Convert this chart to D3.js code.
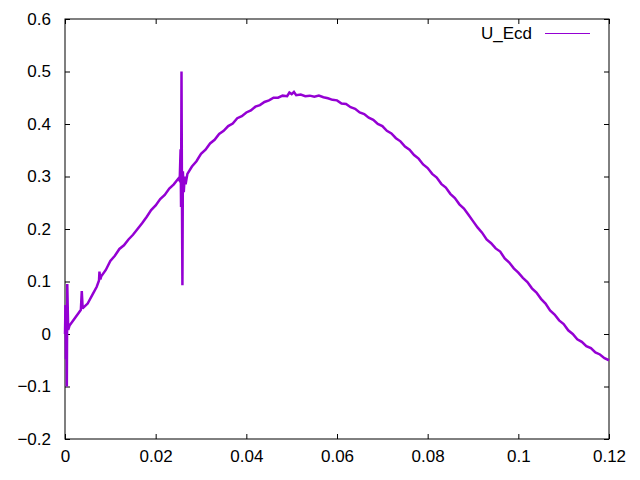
<!DOCTYPE html>
<html>
<head>
<meta charset="utf-8">
<script src="https://cdn.jsdelivr.net/npm/d3@7"></script>
<style>
  body { margin: 0; background: #fff; }
  text { font-family: "Liberation Sans", Arial, sans-serif; font-size: 17px; fill: #000; }
</style>
</head>
<body>
<div class="chart"></div>
<script>
var width = 640, height = 480;
var mLeft = 65, mRight = 609, mTop = 19, mBottom = 439;

var xTicks = [0, 0.02, 0.04, 0.06, 0.08, 0.1, 0.12];
var yTicks = [-0.2, -0.1, 0, 0.1, 0.2, 0.3, 0.4, 0.5, 0.6];
var seriesName = "U_Ecd";

var xs = [0, 0.0001, 0.0002, 0.0003, 0.0004, 0.0005, 0.0007, 0.001,
  0.002, 0.003, 0.0035, 0.0037, 0.0039, 0.004, 0.005, 0.006, 0.007, 0.0075, 0.0076, 0.0078,
  0.008, 0.009, 0.010, 0.011, 0.012, 0.013, 0.014, 0.015, 0.016, 0.017, 0.018, 0.019,
  0.020, 0.021, 0.022, 0.023, 0.024, 0.025, 0.0253, 0.0255, 0.0256, 0.0257, 0.0258, 0.0259,
  0.026, 0.0262, 0.0264, 0.0266, 0.027, 0.028, 0.029, 0.030, 0.031, 0.032, 0.033, 0.034,
  0.035, 0.036, 0.037, 0.038, 0.039, 0.040, 0.041, 0.042, 0.043, 0.044, 0.045, 0.046,
  0.047, 0.048, 0.049, 0.0495, 0.050, 0.0505, 0.051, 0.052, 0.053, 0.054, 0.055, 0.056,
  0.057, 0.058, 0.059, 0.060, 0.061, 0.062, 0.063, 0.064, 0.065, 0.066, 0.067, 0.068,
  0.069, 0.070, 0.071, 0.072, 0.073, 0.074, 0.075, 0.076, 0.077, 0.078, 0.079, 0.080,
  0.081, 0.082, 0.083, 0.084, 0.085, 0.086, 0.087, 0.088, 0.089, 0.090, 0.091, 0.092,
  0.093, 0.094, 0.095, 0.096, 0.097, 0.098, 0.099, 0.100, 0.101, 0.102, 0.103, 0.104,
  0.105, 0.106, 0.107, 0.108, 0.109, 0.110, 0.111, 0.112, 0.113, 0.114, 0.115, 0.116,
  0.117, 0.118, 0.119, 0.120];
var ys = [0.0, 0.055, -0.048, 0.05, -0.1, 0.095, 0.008, 0.016,
  0.028, 0.04, 0.046, 0.082, 0.048, 0.05, 0.058, 0.074, 0.09, 0.102, 0.119, 0.104,
  0.11, 0.122, 0.139, 0.149, 0.162, 0.169, 0.18, 0.189, 0.2, 0.211, 0.223, 0.236,
  0.245, 0.257, 0.265, 0.277, 0.285, 0.296, 0.292, 0.352, 0.242, 0.5, 0.26, 0.093,
  0.31, 0.27, 0.3, 0.285, 0.305, 0.319, 0.329, 0.343, 0.351, 0.363, 0.37, 0.381,
  0.387, 0.396, 0.401, 0.411, 0.415, 0.422, 0.426, 0.433, 0.436, 0.442, 0.445, 0.45,
  0.45, 0.454, 0.453, 0.46, 0.457, 0.461, 0.455, 0.456, 0.453, 0.454, 0.452, 0.454,
  0.451, 0.449, 0.446, 0.445, 0.439, 0.438, 0.432, 0.429, 0.422, 0.419, 0.412, 0.408,
  0.4, 0.396, 0.387, 0.382, 0.373, 0.367, 0.357, 0.351, 0.341, 0.334, 0.323, 0.316,
  0.305, 0.298, 0.286, 0.279, 0.267, 0.259, 0.247, 0.239, 0.227, 0.215, 0.203, 0.193,
  0.18, 0.173, 0.163, 0.157, 0.144, 0.136, 0.125, 0.117, 0.107, 0.099, 0.087, 0.079,
  0.067, 0.058, 0.045, 0.037, 0.026, 0.019, 0.007, 0.0, -0.01, -0.015, -0.023, -0.027,
  -0.035, -0.039, -0.046, -0.05];

var svg = d3.select(".chart").append("svg")
  .attr("width", width)
  .attr("height", height);

var x = d3.scaleLinear().domain([0, 0.12]).range([mLeft, mRight]);
var y = d3.scaleLinear().domain([-0.2, 0.6]).range([mBottom, mTop]);

// inward ticks on all four sides, like gnuplot
var tl = 5;
svg.append("g").attr("transform", "translate(0," + mBottom + ")")
  .call(d3.axisBottom(x).tickValues(xTicks).tickSize(-tl).tickPadding(11).tickFormat(d3.format("~g")));
svg.append("g").attr("transform", "translate(0," + mTop + ")")
  .call(d3.axisTop(x).tickValues(xTicks).tickSize(-tl).tickFormat(""));
svg.append("g").attr("transform", "translate(" + mLeft + ",0)")
  .call(d3.axisLeft(y).tickValues(yTicks).tickSize(-tl).tickPadding(14).tickFormat(d3.format("~g")));
svg.append("g").attr("transform", "translate(" + mRight + ",0)")
  .call(d3.axisRight(y).tickValues(yTicks).tickSize(-tl).tickFormat(""));

svg.selectAll(".domain").remove();
svg.selectAll(".tick line").attr("stroke", "#000");
svg.selectAll(".tick text").attr("font-size", 17).attr("font-family", "Liberation Sans, Arial, sans-serif").attr("fill", "#000");

svg.append("rect")
  .attr("x", mLeft).attr("y", mTop)
  .attr("width", mRight - mLeft).attr("height", mBottom - mTop)
  .attr("fill", "none").attr("stroke", "#000").attr("stroke-width", 1);

var line = d3.line()
  .x(function (d, i) { return x(xs[i]); })
  .y(function (d, i) { return y(ys[i]); });

svg.append("path")
  .datum(ys)
  .attr("fill", "none")
  .attr("stroke", "#9400d3")
  .attr("stroke-width", 2.5)
  .attr("d", line);

// key
svg.append("text")
  .attr("x", 532).attr("y", 39)
  .attr("text-anchor", "end")
  .text(seriesName);
svg.append("line")
  .attr("x1", 545).attr("x2", 590)
  .attr("y1", 33.5).attr("y2", 33.5)
  .attr("stroke", "#9400d3").attr("stroke-width", 1);
</script>
</body>
</html>
